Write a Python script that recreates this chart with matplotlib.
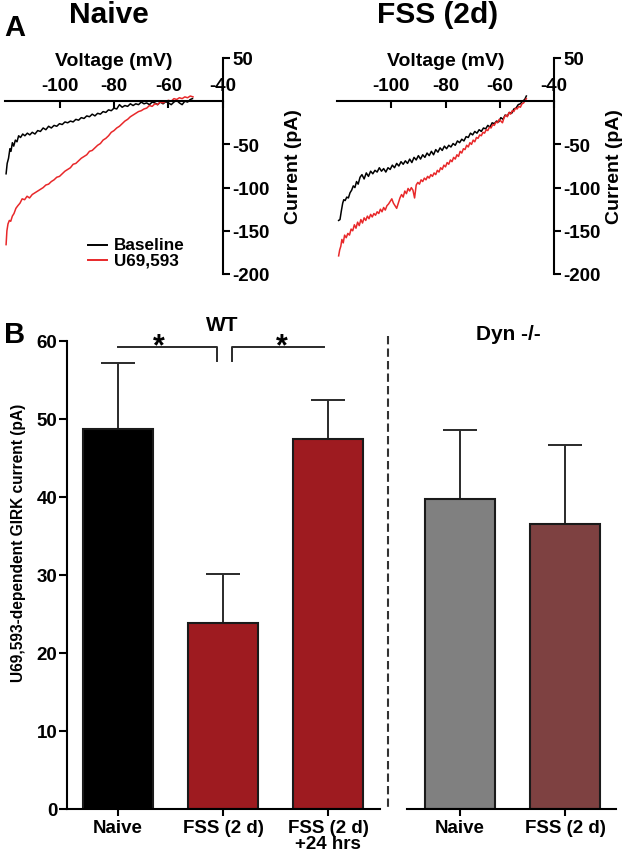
import matplotlib
matplotlib.use("Agg")
import matplotlib.pyplot as plt
from matplotlib.lines import Line2D

plt.rcParams['font.family'] = ['Liberation Sans', 'DejaVu Sans']
plt.rcParams['font.weight'] = 'bold'

# ---------------- Panel A data (I-V traces) ----------------
naive_base_v = [-119.6, -119.2, -118.7, -118.2, -117.8, -117.3, -116.8, -116.2, -115.6, -115.0, -114.3, -113.5,
                -112.7, -111.8, -110.9, -110.0, -109.0, -108.0, -107.0, -106.0, -105.0, -104.0, -103.0, -102.0,
                -101.0, -100.0, -99.0, -98.0, -97.0, -96.0, -95.0, -94.0, -93.0, -92.0, -91.0, -90.0, -89.0,
                -88.0, -87.0, -86.0, -85.0, -84.0, -83.0, -82.0, -81.0, -80.0, -79.0, -78.0, -77.0, -76.0,
                -75.0, -74.0, -73.0, -72.0, -71.0, -70.0, -69.0, -68.0, -67.0, -66.0, -65.0, -64.0, -63.0,
                -62.0, -61.0, -60.0, -59.0, -58.0, -57.0, -56.0, -55.0, -54.0, -53.0, -52.0, -51.2]
naive_base_i = [-84, -72, -66, -55, -58, -48, -52, -45, -47, -40, -42, -38,
                -40, -37, -39, -36, -38, -34, -35, -31, -33, -29, -31, -28,
                -29, -26, -27, -24, -25, -23, -24, -21, -22, -19, -20, -17, -18,
                -15, -17, -14, -15, -12, -13, -10, -11, -8, -9, -4, -7, -5,
                -6, -3, -5, -3, -4, -1, -3, -2, -4, -1, -2, -4, -1,
                -3, -0.5, -2, -4, -1, 1, -2, -4, 0, -1, 2, 3]

naive_u69_v = [-119.6, -119.3, -118.9, -118.4, -117.9, -117.3, -116.7, -116.0, -115.3, -114.5, -113.7, -112.8,
               -111.9, -111.0, -110.0, -109.0, -108.0, -107.0, -106.0, -105.0, -104.0, -103.0, -102.0, -101.0,
               -100.0, -99.0, -98.0, -97.0, -96.0, -95.0, -94.0, -93.0, -92.0, -91.0, -90.0, -89.0, -88.0,
               -87.0, -86.0, -85.0, -84.0, -83.0, -82.0, -81.0, -80.0, -79.0, -78.0, -77.0, -76.0, -75.0,
               -74.0, -73.0, -72.0, -71.0, -70.0, -69.0, -68.0, -67.0, -66.0, -65.0, -64.0, -63.0, -62.0,
               -61.0, -60.0, -59.0, -58.0, -57.0, -56.0, -55.0, -54.0, -53.0, -52.0, -51.0]
naive_u69_i = [-166, -150, -142, -138, -139, -133, -130, -124, -121, -118, -113, -114,
               -110, -112, -108, -106, -104, -102, -100, -97, -96, -93, -91, -88,
               -87, -84, -81, -79, -77, -73, -72, -69, -66, -64, -62, -58, -57,
               -54, -51, -49, -45, -43, -40, -36, -34, -31, -29, -26, -23, -21,
               -18, -16, -14, -12, -11, -9, -8, -5, -6, -3, -4, -1, -2,
               0, 1, 0, 3, 2, 4, 3, 5, 4, 6, 5]

fss_base_v = [-119.4, -118.9, -118.4, -117.9, -117.5, -117.0, -116.4, -115.8, -115.2, -114.6, -114.0, -113.4,
              -112.8, -112.2, -111.5, -110.8, -110.0, -109.2, -108.4, -107.6, -106.8, -106.0, -105.2, -104.4,
              -103.6, -102.8, -102.0, -101.2, -100.4, -99.6, -98.8, -98.0, -97.2, -96.4, -95.6, -94.8, -94.0,
              -93.2, -92.4, -91.6, -90.8, -90.0, -89.2, -88.4, -87.6, -86.8, -86.0, -85.2, -84.4, -83.6,
              -82.8, -82.0, -81.2, -80.4, -79.6, -78.8, -78.0, -77.2, -76.4, -75.6, -74.8, -74.0, -73.2,
              -72.4, -71.6, -70.8, -70.0, -69.2, -68.4, -67.6, -66.8, -66.0, -65.2, -64.4, -63.6, -62.8,
              -62.0, -61.2, -60.4, -59.6, -58.8, -58.0, -57.2, -56.4, -55.6, -54.8, -54.0, -53.2, -52.4,
              -51.6, -50.8, -50.2]
fss_base_i = [-138, -137, -127, -118, -114, -115, -111, -112, -106, -103, -98, -100,
              -93, -96, -88, -85, -90, -83, -87, -81, -84, -80, -82, -77,
              -81, -78, -82, -77, -79, -74, -77, -72, -75, -70, -73, -69, -72,
              -67, -71, -65, -68, -63, -67, -62, -65, -60, -63, -58, -62, -56,
              -59, -54, -57, -52, -55, -51, -53, -49, -51, -46, -48, -44, -46,
              -41, -42, -37, -39, -35, -37, -33, -35, -31, -32, -28, -30, -25,
              -26, -23, -24, -19, -21, -16, -17, -13, -14, -9, -8, -4, -3,
              0, 2, 6]

fss_u69_v = [-119.4, -119.0, -118.6, -118.2, -117.7, -117.2, -116.6, -116.0, -115.4, -114.8, -114.2, -113.6,
             -113.0, -112.4, -111.8, -111.2, -110.6, -110.0, -109.4, -108.8, -108.2, -107.6, -107.0, -106.4,
             -105.8, -105.2, -104.6, -104.0, -103.4, -102.8, -102.2, -101.6, -101.0, -100.4, -99.8, -99.2,
             -98.6, -98.0, -97.4, -96.8, -96.2, -95.6, -95.0, -94.4, -93.8, -93.2, -92.6, -92.0, -91.4,
             -90.8, -90.2, -89.6, -89.0, -88.4, -87.8, -87.2, -86.6, -86.0, -85.4, -84.8, -84.2, -83.6,
             -83.0, -82.4, -81.8, -81.2, -80.6, -80.0, -79.4, -78.8, -78.2, -77.6, -77.0, -76.4, -75.8,
             -75.2, -74.6, -74.0, -73.4, -72.8, -72.2, -71.6, -71.0, -70.4, -69.8, -69.2, -68.6, -68.0,
             -67.4, -66.8, -66.2, -65.6, -65.0, -64.4, -63.8, -63.2, -62.6, -62.0, -61.4, -60.8, -60.2,
             -59.6, -59.0, -58.4, -57.8, -57.2, -56.6, -56.0, -55.4, -54.8, -54.2, -53.6, -53.0, -52.4,
             -51.8, -51.2, -50.6, -50.2]
fss_u69_i = [-179, -172, -168, -160, -164, -155, -158, -153, -155, -148, -150, -143,
             -147, -140, -144, -137, -141, -135, -138, -133, -136, -131, -134, -130,
             -132, -128, -130, -125, -128, -123, -126, -121, -119, -116, -113, -118,
             -121, -124, -118, -112, -108, -111, -104, -107, -101, -104, -100, -103, -112,
             -97, -94, -96, -91, -93, -89, -91, -87, -89, -85, -87, -83, -85,
             -80, -82, -77, -79, -74, -76, -71, -73, -68, -70, -65, -67, -62,
             -64, -58, -60, -55, -56, -51, -53, -48, -50, -45, -47, -42, -43,
             -39, -40, -36, -37, -33, -34, -30, -31, -27, -28, -24, -25, -21,
             -23, -25, -19, -16, -18, -13, -15, -11, -12, -8, -9, -6, -7,
             -3, -2, 1, 3]

a_xticks = [-100, -80, -60, -40]
a_yticks = [-200, -150, -100, -50, 50]
legend_labels = ['Baseline', 'U69,593']

# ---------------- Panel B data (bars) ----------------
wt_labels = ['Naive', 'FSS (2 d)', 'FSS (2 d)\n+24 hrs']
wt_means = [48.7, 23.8, 47.4]
wt_err = [8.5, 6.3, 5.0]
wt_colors = ['#000000', '#9E1B20', '#9E1B20']

dyn_labels = ['Naive', 'FSS (2 d)']
dyn_means = [39.8, 36.5]
dyn_err = [8.8, 10.2]
dyn_colors = ['#808080', '#7E4141']

b_yticks = [0, 10, 20, 30, 40, 50, 60]

W, H = 624, 853
fig = plt.figure(figsize=(W / 100, H / 100), dpi=100)


def fx(px):
    return px / W


def fy(py):
    return 1 - py / H


FS_TICK = 13.5
TRACE_RED = '#E8282A'


def iv_axes(rect, traces, ylab_x):
    ax = fig.add_axes(rect)
    for v, i, c in traces:
        ax.plot(v, i, color=c, lw=1.1)
    ax.set_xlim(-120, -40)
    ax.set_ylim(-200, 50)
    ax.spines['left'].set_visible(False)
    ax.spines['bottom'].set_visible(False)
    ax.spines['top'].set_position(('data', 0))
    for s in ('top', 'right'):
        ax.spines[s].set_linewidth(1.5)
    ax.xaxis.set_ticks_position('top')
    ax.xaxis.set_label_position('top')
    ax.yaxis.set_ticks_position('right')
    ax.yaxis.set_label_position('right')
    ax.set_xticks(a_xticks)
    ax.set_xticklabels([str(t) for t in a_xticks])
    ax.set_yticks(a_yticks)
    ax.set_yticklabels([str(t) for t in a_yticks])
    ax.tick_params(axis='x', direction='in', length=5, width=1.5, pad=5, labelsize=FS_TICK)
    ax.tick_params(axis='y', direction='out', length=5, width=1.5, pad=2, labelsize=FS_TICK)
    ax.set_xlabel('Voltage (mV)', fontsize=14, fontweight='bold', labelpad=9)
    ax.set_ylabel('Current (pA)', fontsize=14, fontweight='bold')
    ax.yaxis.set_label_coords(ylab_x, 0.5)
    ax.patch.set_visible(False)
    return ax


axA1 = iv_axes([fx(5), fy(275), fx(218), (275 - 59) / H],
               [(naive_base_v, naive_base_i, 'black'), (naive_u69_v, naive_u69_i, TRACE_RED)],
               (285 - 5) / 218)
axA2 = iv_axes([fx(337), fy(275), fx(217), (275 - 59) / H],
               [(fss_base_v, fss_base_i, 'black'), (fss_u69_v, fss_u69_i, TRACE_RED)],
               (606 - 337) / 217)

# legend (drawn manually to match the tight layout)
for (ly, lab, col) in [(246, legend_labels[0], 'black'), (261, legend_labels[1], TRACE_RED)]:
    fig.add_artist(Line2D([fx(88), fx(107)], [fy(ly), fy(ly)], transform=fig.transFigure, color=col, lw=1.4))
    fig.text(fx(114), fy(ly), lab, fontsize=12.3, fontweight='bold', va='center', ha='left')

fig.text(fx(4), fy(36), 'A', fontsize=21, fontweight='bold', va='baseline', ha='left')
fig.text(fx(109), fy(23), 'Naive', fontsize=21.5, fontweight='bold', va='baseline', ha='center')
fig.text(fx(438), fy(23), 'FSS (2d)', fontsize=21.5, fontweight='bold', va='baseline', ha='center')

# ---------------- Panel B ----------------
yb0, yb1 = 810, 342
axB1 = fig.add_axes([fx(67), fy(yb0), fx(380 - 67), (yb0 - yb1) / H])
axB2 = fig.add_axes([fx(407), fy(yb0), fx(616 - 407), (yb0 - yb1) / H])


def bars(ax, labels, means, errs, colors):
    x = list(range(len(means)))
    ax.bar(x, means, width=0.667, color=colors, edgecolor='#1a1a1a', linewidth=1.5, zorder=2)
    ax.errorbar(x, means, yerr=[[0] * len(errs), errs], fmt='none', ecolor='#2a2a2a',
                elinewidth=1.4, capsize=12.5, capthick=1.4, zorder=1)
    ax.set_xticks(x)
    ax.set_xticklabels(labels, fontsize=FS_TICK, fontweight='bold', linespacing=0.92)
    ax.set_ylim(0, 60)
    ax.spines['top'].set_visible(False)
    ax.spines['right'].set_visible(False)
    ax.spines['bottom'].set_linewidth(1.5)
    ax.spines['left'].set_linewidth(1.5)
    ax.tick_params(axis='x', direction='out', length=5, width=1.5, pad=2.5)
    ax.tick_params(axis='y', direction='out', length=6, width=1.5, pad=1, labelsize=FS_TICK)
    ax.patch.set_visible(False)
    return x


bars(axB1, wt_labels, wt_means, wt_err, wt_colors)
axB1.set_xlim(-0.486, 2.495)
axB1.set_yticks(b_yticks)
axB1.set_yticklabels([str(t) for t in b_yticks])

bars(axB2, dyn_labels, dyn_means, dyn_err, dyn_colors)
axB2.set_xlim(-0.505, 1.486)
axB2.spines['left'].set_visible(False)
axB2.set_yticks([])

# significance brackets
axB1.plot([0, 0.94, 0.94], [59.2, 59.2, 57.4], color='#2a2a2a', lw=1.4, clip_on=False)
axB1.plot([1.086, 1.086, 1.96], [57.4, 59.2, 59.2], color='#2a2a2a', lw=1.4, clip_on=False)
axB1.text(0.39, 58.3, '*', ha='center', va='baseline', fontsize=22, fontweight='bold')
axB1.text(1.56, 58.3, '*', ha='center', va='baseline', fontsize=22, fontweight='bold')

fig.text(fx(222), fy(331), 'WT', fontsize=15, fontweight='bold', ha='center', va='baseline')
fig.text(fx(508), fy(340), 'Dyn -/-', fontsize=15, fontweight='bold', ha='center', va='baseline')
fig.text(fx(4), fy(343), 'B', fontsize=21, fontweight='bold', va='baseline', ha='left')
fig.text(fx(18.5), fy(543), 'U69,593-dependent GIRK current (pA)', fontsize=11.2, fontweight='bold',
         rotation=90, ha='center', va='center')

# dashed separator
fig.add_artist(Line2D([fx(388), fx(388)], [fy(337), fy(810)], transform=fig.transFigure,
                      color='#333333', lw=1.5, linestyle=(0, (4, 2))))

fig.savefig('out.png', dpi=100)
